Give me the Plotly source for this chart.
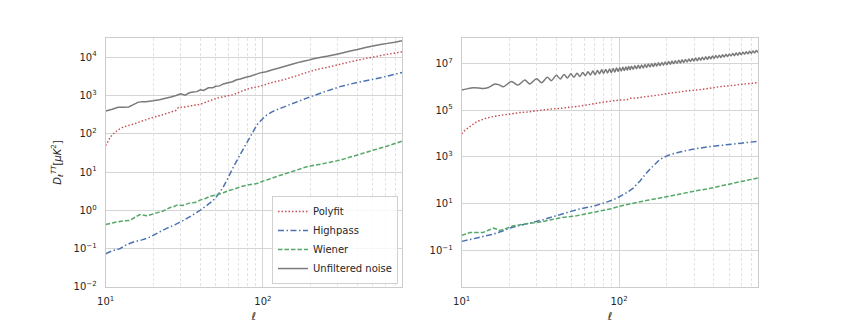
import plotly.graph_objects as go

# ---- left panel (D_ell^TT, uK^2) ----
ell_noise_l = [10, 11, 12, 13, 14, 15, 16, 17, 18, 20, 22, 24, 26, 28, 30, 32, 34, 36, 38, 40, 42,
               45, 48, 50, 53, 56, 60, 64, 68, 72, 77, 83, 90, 96, 105, 115, 125, 140, 155, 173,
               190, 210, 235, 260, 290, 320, 359, 400, 450, 500, 560, 620, 690, 767]
noise_l = [394, 437, 490, 490, 500, 575, 660, 690, 690, 725, 776, 850, 912, 1000, 1100, 1020, 1175,
           1230, 1260, 1410, 1350, 1585, 1585, 1740, 1780, 2000, 2140, 2290, 2570, 2700, 2950, 3160,
           3550, 3890, 4170, 4680, 5130, 5890, 6600, 7520, 8130, 9120, 10000, 10700, 11750, 12900,
           14400, 15850, 17800, 19500, 21400, 22900, 24500, 26900]

ell_poly_l = [10, 10.5, 11, 12, 13, 14, 15, 17, 19, 21, 24, 26, 28, 29, 32, 35, 40, 45, 51, 58, 65,
              72, 83, 96, 110, 135, 160, 190, 219, 260, 300, 359, 420, 500, 590, 680, 767]
poly_l = [49, 71, 95, 126, 151, 166, 178, 214, 251, 282, 331, 372, 407, 490, 501, 537, 589, 708,
          851, 955, 1047, 1259, 1550, 1740, 2090, 2570, 3160, 3980, 4720, 5500, 6310, 7520, 8710,
          10000, 11500, 12600, 13800]

ell_high_l = [10, 11, 12.3, 13.5, 15, 17, 19.1, 21.5, 24.4, 27.5, 31.2, 35, 39.8, 44, 48.5, 52, 56,
              60, 65, 70, 75, 83, 91.5, 100, 106, 115, 129, 150, 190, 240, 309, 400, 508, 620, 767]
high_l = [0.074, 0.088, 0.10, 0.125, 0.15, 0.17, 0.2, 0.26, 0.34, 0.42, 0.55, 0.72, 1.0, 1.35, 1.86,
          2.6, 4.1, 7.0, 13.8, 24, 40, 83, 170, 250, 310, 380, 460, 590, 850, 1200, 1700, 2200,
          2660, 3200, 4000]

ell_wien_l = [10, 11, 11.8, 13, 14.3, 15.5, 16.5, 18.2, 19.5, 21.1, 23, 25.7, 27, 28.3, 31, 34.4,
              37, 39.8, 43, 46.2, 50, 56, 61, 66, 71.6, 80, 91.5, 100, 108, 125, 150, 190, 240,
              309, 400, 508, 620, 767]
wien_l = [0.43, 0.47, 0.5, 0.53, 0.55, 0.68, 0.78, 0.72, 0.78, 0.86, 0.95, 1.19, 1.25, 1.37, 1.35,
          1.57, 1.6, 1.85, 2.05, 2.35, 2.5, 2.9, 3.3, 3.6, 4.1, 4.6, 5.0, 5.8, 6.4, 7.9, 10.0, 13.8,
          16.5, 20.5, 28, 37.6, 48, 64]

# ---- right panel ----
ell_noise_r = [10, 11, 11.8, 12.8, 13.7, 14.8, 16.3, 17.3, 18.4, 20.7, 22.8, 25.2, 27.1, 29.9, 32.2,
               35, 37.2, 40, 42.3, 44.7, 47.0, 49.4, 51.7, 54.1, 56.4, 58.8, 61.1, 63.5, 65.8, 68.2,
               70.5, 72.9, 75.2, 77.6, 79.9, 82.3, 84.6, 87.0, 89.3, 91.7, 94.0, 96.4, 98.7, 101,
               103.4, 105.8, 108.1, 110.5, 112.8, 115.2, 117.5,
               120, 123, 126, 129.2, 132.5, 135.8, 139.2, 142.6, 146.2, 149.9, 153.6, 157.4, 161.4,
               165.4, 169.5, 173.8, 178.1, 182.6, 187.2, 191.8, 196.6, 201.6, 206.6, 211.8, 217.1,
               222.5, 228.0, 233.7, 239.6, 245.6, 251.7, 258.0, 264.5, 271.1, 277.9, 284.8, 291.9,
               299.2, 306.7, 314.4, 322.2, 330.3, 338.5, 347.0, 355.7, 364.6, 373.7, 383.0, 392.6,
               402.4, 412.5, 422.8, 433.4, 444.2, 455.3, 466.7, 478.4, 490.3, 502.6, 515.1, 528.0,
               541.2, 554.7, 568.6, 582.8, 597.4, 612.3, 627.6, 643.3, 659.4, 675.9, 692.8, 710.1,
               727.9, 746.1, 764.7]
noise_r = [7.2e5, 8.3e5, 9.1e5, 8.9e5, 8.3e5, 9.3e5, 1.32e6, 1.2e6, 1.0e6, 1.66e6, 1.17e6, 1.95e6,
           1.32e6, 2.19e6, 1.48e6, 2.51e6, 1.82e6, 3.09e6, 2.14e6, 3.31e6, 2.37e6, 3.55e6, 2.54e6,
           3.80e6, 2.72e6, 4.07e6, 2.92e6, 4.37e6, 3.13e6, 4.68e6, 3.31e6, 4.95e6, 3.55e6, 5.25e6,
           3.72e6, 5.50e6, 3.89e6, 5.75e6, 4.07e6, 6.03e6, 4.27e6, 6.31e6, 4.47e6, 6.53e6, 4.68e6,
           6.76e6, 4.90e6, 7.00e6, 5.07e6, 7.33e6, 5.31e6,
           7.52e6, 5.57e6, 7.83e6, 5.82e6, 8.17e6, 6.08e6, 8.51e6, 6.37e6, 8.89e6, 6.65e6, 9.27e6,
           6.95e6, 9.66e6, 7.28e6, 1.007e7, 7.60e6, 1.050e7, 7.94e6, 1.094e7, 8.32e6, 1.140e7,
           8.69e6, 1.191e7, 9.08e6, 1.242e7, 9.51e6, 1.294e7, 9.93e6, 1.349e7, 1.040e7, 1.406e7,
           1.086e7, 1.466e7, 1.135e7, 1.528e7, 1.189e7, 1.596e7, 1.242e7, 1.663e7, 1.297e7, 1.734e7,
           1.358e7, 1.807e7, 1.419e7, 1.884e7, 1.483e7, 1.963e7, 1.552e7, 2.051e7, 1.622e7, 2.138e7,
           1.694e7, 2.228e7, 1.774e7, 2.323e7, 1.854e7, 2.421e7, 1.936e7, 2.523e7, 2.028e7, 2.630e7,
           2.118e7, 2.748e7, 2.213e7, 2.864e7, 2.317e7, 2.985e7, 2.421e7, 3.112e7, 2.529e7, 3.243e7,
           2.649e7, 3.381e7, 2.767e7, 3.524e7, 2.891e7]

ell_poly_r = [10, 10.5, 11.3, 12.5, 14.4, 16, 18.4, 21, 23.4, 26, 29.9, 34, 38.1, 43, 48.6, 55, 62,
              70, 79, 90, 101, 112, 117, 130, 145, 164, 185, 209, 235, 267, 300, 340, 385, 435, 490,
              555, 620, 690, 767]
poly_r = [9.8e3, 1.4e4, 2.0e4, 3.3e4, 4.6e4, 5.4e4, 6.3e4, 7.0e4, 7.9e4, 8.3e4, 9.4e4, 1.05e5,
          1.13e5, 1.2e5, 1.33e5, 1.45e5, 1.66e5, 1.9e5, 2.2e5, 2.45e5, 2.7e5, 2.75e5, 3.2e5, 3.3e5,
          3.7e5, 4.1e5, 4.6e5, 5.3e5, 5.8e5, 6.6e5, 7.1e5, 7.8e5, 8.8e5, 1.0e6, 1.08e6, 1.18e6,
          1.3e6, 1.38e6, 1.5e6]

ell_high_r = [10, 11, 12.5, 14, 15.9, 18, 20.3, 23, 25.8, 29, 33, 37, 42, 47, 53.6, 60, 68.4, 75,
              83.3, 92, 101, 112, 123, 136, 149, 165, 181, 195, 209, 240, 294, 380, 479, 600, 767]
high_r = [0.25, 0.29, 0.35, 0.42, 0.51, 0.68, 0.93, 1.15, 1.4, 1.7, 2.1, 2.7, 3.4, 4.3, 5.6, 6.6,
          7.8, 9.5, 11.8, 15, 20.5, 30, 47, 95, 204, 420, 760, 1000, 1230, 1600, 2150, 2800, 3300,
          3900, 4700]

ell_wien_r = [10, 10.6, 11.3, 12.5, 13.7, 14.8, 15.9, 16.7, 17.5, 19.2, 21.3, 23.5, 25.8, 29, 33,
              37, 42, 47.5, 53.6, 60, 68.4, 77, 87.3, 98, 111, 130, 155, 181, 230, 294, 380, 479,
              600, 767]
wien_r = [0.45, 0.52, 0.6, 0.6, 0.6, 0.75, 0.93, 0.82, 0.73, 0.9, 1.16, 1.28, 1.4, 1.55, 1.78, 2.1,
          2.5, 2.8, 3.1, 3.6, 4.3, 5.1, 6.0, 7.5, 9.2, 11.5, 14.5, 17.6, 24, 34, 46, 65, 90, 128]

names = ["Polyfit", "Highpass", "Wiener", "Unfiltered noise"]
colors = {"Polyfit": "#C44E52", "Highpass": "#4C72B0", "Wiener": "#55A868",
          "Unfiltered noise": "#7a7a7a"}
# matplotlib-like short dash patterns
dashes = {"Polyfit": "1.5px,2px", "Highpass": "6px,2.5px,1.5px,2.5px",
          "Wiener": "4.5px,2px", "Unfiltered noise": "solid"}
widths = {"Polyfit": 1.4, "Highpass": 1.5, "Wiener": 1.5, "Unfiltered noise": 1.5}

x_ticks = [10, 100]
x_ticktext = ["10<sup>1</sup>", "10<sup>2</sup>"]
x_minor = [20, 30, 40, 50, 60, 70, 80, 90, 200, 300, 400, 500, 600, 700]
yl_ticks = [1e-2, 1e-1, 1, 10, 100, 1e3, 1e4]
yl_text = ["10<sup>−2</sup>", "10<sup>−1</sup>", "10<sup>0</sup>", "10<sup>1</sup>",
           "10<sup>2</sup>", "10<sup>3</sup>", "10<sup>4</sup>"]
yr_ticks = [1e-1, 10, 1e3, 1e5, 1e7]
yr_text = ["10<sup>−1</sup>", "10<sup>1</sup>", "10<sup>3</sup>", "10<sup>5</sup>", "10<sup>7</sup>"]

left = {"Polyfit": (ell_poly_l, poly_l), "Highpass": (ell_high_l, high_l),
        "Wiener": (ell_wien_l, wien_l), "Unfiltered noise": (ell_noise_l, noise_l)}
right = {"Polyfit": (ell_poly_r, poly_r), "Highpass": (ell_high_r, high_r),
         "Wiener": (ell_wien_r, wien_r), "Unfiltered noise": (ell_noise_r, noise_r)}

fig = go.Figure()
for panel, data, xa, ya in [(0, left, "x", "y"), (1, right, "x2", "y2")]:
    for n in names:
        xs, ys = data[n]
        # the oscillating noise spectrum on the right is drawn smooth
        shape = "spline" if (panel == 1 and n == "Unfiltered noise") else "linear"
        fig.add_trace(go.Scatter(
            x=xs, y=ys, mode="lines", name=n, xaxis=xa, yaxis=ya,
            showlegend=(panel == 0),
            line=dict(color=colors[n], dash=dashes[n], width=widths[n], simplify=False,
                      shape=shape, smoothing=0.8),
        ))

font = dict(family="DejaVu Sans", size=10, color="#262626")
grid = "#d5d5d5"
frame = "#cccccc"

def xaxis_style(domain):
    return dict(
        domain=domain, type="log", range=[1, 2.885], tickvals=x_ticks, ticktext=x_ticktext,
        showgrid=True, gridcolor=grid, gridwidth=1, showline=True, linecolor=frame, linewidth=1.2,
        mirror=True, ticks="", zeroline=False, tickfont=font, automargin=False,
        ticklabelstandoff=5,
        minor=dict(tickvals=x_minor, showgrid=True, gridcolor="#e3e3e3", griddash="3px,2px",
                   gridwidth=0.8, ticks=""),
        title=dict(text="<i>ℓ</i>", font=dict(family="DejaVu Sans", size=11, color="#262626"),
                   standoff=6),
    )

def yaxis_style(domain, rng, tv, tt, anchor):
    return dict(
        domain=domain, type="log", range=rng, tickvals=tv, ticktext=tt, anchor=anchor,
        showgrid=True, gridcolor=grid, gridwidth=1, showline=True, linecolor=frame, linewidth=1.2,
        mirror=True, ticks="", zeroline=False, tickfont=font, automargin=False,
        ticklabelstandoff=6,
    )

# page body adds ~8px offset, domains compensate
ydom = [0.1389, 0.9074]
fig.update_layout(
    width=843, height=324,
    margin=dict(l=0, r=0, t=0, b=0),
    paper_bgcolor="white", plot_bgcolor="white",
    font=font,
    xaxis=xaxis_style([0.1159, 0.4674]),
    xaxis2=dict(xaxis_style([0.5382, 0.8900]), anchor="y2"),
    yaxis=dict(yaxis_style(ydom, [-2, 4.5], yl_ticks, yl_text, "x"),
               title=dict(text="<i>D</i><sub><i>ℓ</i></sub><sup><i>TT</i></sup>[<i>μK</i><sup>2</sup>]",
                          font=dict(family="DejaVu Sans", size=10, color="#262626"), standoff=10)),
    yaxis2=yaxis_style(ydom, [-2.55, 8.08], yr_ticks, yr_text, "x2"),
    legend=dict(x=0.4626, y=0.148, xanchor="right", yanchor="bottom",
                bgcolor="rgba(255,255,255,0.8)", bordercolor="#d0d0d0", borderwidth=1,
                font=dict(family="DejaVu Sans", size=10, color="#262626"),
                tracegroupgap=0, itemwidth=30),
    showlegend=True,
)

fig.write_html("out.html")
